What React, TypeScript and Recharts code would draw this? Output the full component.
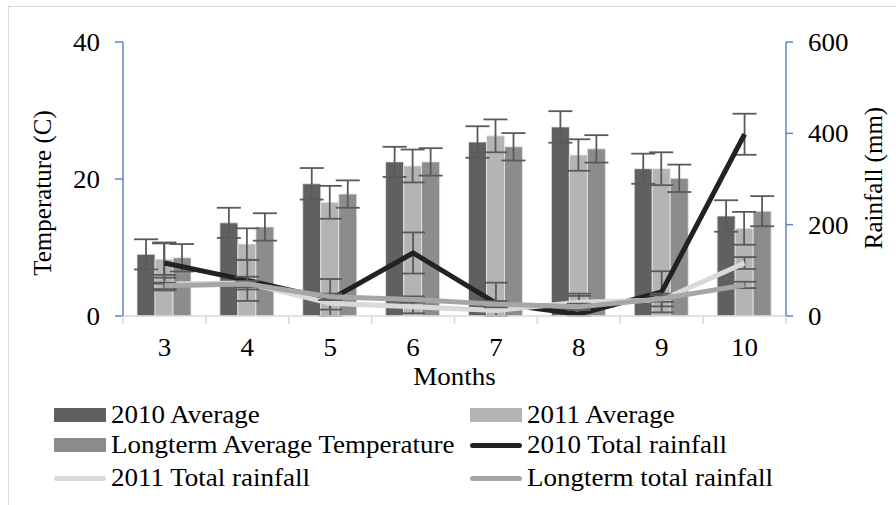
import React from 'react';
import { ComposedChart, Bar, Line, XAxis, YAxis, ErrorBar, Legend } from 'recharts';

const months = ['3', '4', '5', '6', '7', '8', '9', '10'];
const avg2010 = [9.0, 13.6, 19.3, 22.5, 25.4, 27.6, 21.5, 14.6];
const avg2011 = [8.3, 10.5, 16.6, 21.9, 26.3, 23.5, 21.5, 12.8];
const avgLong = [8.5, 13.0, 17.8, 22.5, 24.7, 24.4, 20.1, 15.3];
const errAvg2010 = [2.2, 2.2, 2.3, 2.2, 2.3, 2.3, 2.2, 2.3];
const errAvg2011 = [2.3, 2.3, 2.4, 2.4, 2.4, 2.3, 2.4, 2.4];
const errAvgLong = [2.0, 2.0, 2.0, 2.0, 2.0, 2.0, 2.0, 2.2];
const rain2010 = [116, 78, 36, 138, 28, 4, 53, 398];
const rain2011 = [70, 72, 28, 20, 12, 30, 35, 116];
const rainLong = [66, 70, 42, 36, 26, 20, 38, 68];
const errRain2010 = [45, 45, 45, 45, 45, 45, 45, 45];
const errRain2011 = [14, 14, 14, 14, 14, 14, 14, 13];
const errRainLong = [7, 7, 7, 7, 7, 7, 7, 7];
const tempTicks = [0, 20, 40];
const rainTicks = [0, 200, 400, 600];

// error bars are clipped at the axis floor (0), as in the original plot area
const clipErr = (vals: number[], errs: number[]) => errs.map((e, i) => [Math.min(e, vals[i]), e]);

const eR2010 = clipErr(rain2010, errRain2010);
const eR2011 = clipErr(rain2011, errRain2011);
const eRLong = clipErr(rainLong, errRainLong);

const data = months.map((m, i) => ({
  month: m,
  avg2010: avg2010[i],
  avg2011: avg2011[i],
  avgLong: avgLong[i],
  eA2010: errAvg2010[i],
  eA2011: errAvg2011[i],
  eALong: errAvgLong[i],
  rain2010: rain2010[i],
  rain2011: rain2011[i],
  rainLong: rainLong[i],
  eR2010: eR2010[i],
  eR2011: eR2011[i],
  eRLong: eRLong[i],
}));

const W = 896;
const H = 505;
const LEFT_W = 123;
const RIGHT_W = 110;
const TOP = 42;
const XAXIS_H = 80;
const LEGEND_H = 109;
const PLOT_BOTTOM = H - XAXIS_H - LEGEND_H;
const PLOT_W = W - LEFT_W - RIGHT_W;
const FONT = "'Liberation Serif', 'Times New Roman', 'DejaVu Serif', serif";
const FS = 25;
const SX = 1.08;
const AXIS_BLUE = '#5b87c6';
const ERR = '#5a5a5a';

const C2010 = '#606060';
const C2011 = '#b4b4b4';
const CLONG = '#8c8c8c';
const R2010 = '#222222';
const R2011 = '#d9d9d9';
const RLONG = '#a6a6a6';

const stretch = (x: number) => `translate(${x},0) scale(${SX},1) translate(${-x},0)`;

const XTick = (props: any) => {
  const { x, index, payload } = props;
  const band = PLOT_W / months.length;
  return (
    <g>
      <line x1={x - band / 2} x2={x - band / 2} y1={PLOT_BOTTOM} y2={PLOT_BOTTOM + 8} stroke="#d9d9d9" strokeWidth={1.5} />
      {index === months.length - 1 && (
        <line x1={x + band / 2} x2={x + band / 2} y1={PLOT_BOTTOM} y2={PLOT_BOTTOM + 8} stroke="#d9d9d9" strokeWidth={1.5} />
      )}
      <text x={x} y={PLOT_BOTTOM + 40} textAnchor="middle" transform={stretch(x)} style={{ fontFamily: FONT }} fontSize={FS} fill="#000">
        {payload.value}
      </text>
    </g>
  );
};

const YTick = (props: any) => {
  const { x, y, payload, textAnchor } = props;
  return (
    <text x={x} y={y} dy="0.36em" textAnchor={textAnchor} transform={stretch(x)} style={{ fontFamily: FONT }} fontSize={FS} fill="#000">
      {payload.value}
    </text>
  );
};

const legendItems = [
  { label: '2010 Average', color: C2010, type: 'bar' },
  { label: '2011 Average', color: C2011, type: 'bar' },
  { label: 'Longterm Average Temperature', color: CLONG, type: 'bar' },
  { label: '2010 Total rainfall', color: R2010, type: 'line' },
  { label: '2011 Total rainfall', color: R2011, type: 'line' },
  { label: 'Longterm total rainfall', color: RLONG, type: 'line' },
];

const LegendContent = () => {
  const rowY = [19, 49, 82];
  const colX = [54, 470];
  return (
    <div style={{ position: 'relative', width: W, height: LEGEND_H, fontFamily: FONT, fontSize: FS, color: '#000' }}>
      {legendItems.map((it, i) => {
        const col = i % 2;
        const row = Math.floor(i / 2);
        const cy = rowY[row];
        const x = colX[col];
        return (
          <div key={it.label} style={{ position: 'absolute', left: x, top: cy - 16, height: 32, display: 'flex', alignItems: 'center', whiteSpace: 'nowrap' }}>
            {it.type === 'bar' ? (
              <div style={{ width: 52, height: 14, background: it.color }} />
            ) : (
              <div style={{ width: 52, height: 5, background: it.color, borderRadius: 3 }} />
            )}
            <span style={{ marginLeft: 5, lineHeight: '32px', display: 'inline-block', transform: `scaleX(${SX})`, transformOrigin: 'left center' }}>{it.label}</span>
          </div>
        );
      })}
    </div>
  );
};

const LeftLabel = () => (
  <text x={42} y={193} transform="rotate(-90 42 193)" textAnchor="middle" dominantBaseline="central" style={{ fontFamily: FONT }} fontSize={FS} fill="#000">
    Temperature (C)
  </text>
);
const RightLabel = () => (
  <text x={873} y={178} transform="rotate(-90 873 178)" textAnchor="middle" dominantBaseline="central" style={{ fontFamily: FONT }} fontSize={FS} fill="#000">
    Rainfall (mm)
  </text>
);
const BottomLabel = () => {
  const cx = LEFT_W + PLOT_W / 2;
  return (
    <text x={cx} y={377} textAnchor="middle" dominantBaseline="central" transform={stretch(cx)} style={{ fontFamily: FONT }} fontSize={FS} fill="#000">
      Months
    </text>
  );
};

export default function App() {
  return (
    <div style={{ position: 'absolute', left: 0, top: 0, width: W, height: H, background: '#fff', overflow: 'hidden', fontFamily: FONT }}>
      <div style={{ position: 'absolute', left: 8, top: 6, width: W, height: H, borderLeft: '1.5px solid #d9d9d9', borderTop: '1.5px solid #d9d9d9' }} />
      <div style={{ position: 'absolute', left: 0, top: 0 }}>
        <ComposedChart
          width={W}
          height={H}
          data={data}
          margin={{ top: TOP, right: 0, bottom: 0, left: 0 }}
          barSize={18}
          barGap={0}
          style={{ fontFamily: FONT }}
        >
          <XAxis
            dataKey="month"
            height={XAXIS_H}
            stroke="#d9d9d9"
            strokeWidth={1.5}
            tickLine={false}
            tick={<XTick />}
            interval={0}
            label={<BottomLabel />}
          />
          <YAxis
            yAxisId="temp"
            orientation="left"
            width={LEFT_W}
            domain={[0, 40]}
            allowDataOverflow
            ticks={tempTicks}
            stroke={AXIS_BLUE}
            strokeWidth={1.5}
            tickSize={8}
            tickMargin={15}
            tick={<YTick />}
            label={<LeftLabel />}
          />
          <YAxis
            yAxisId="rain"
            orientation="right"
            width={RIGHT_W}
            domain={[0, 600]}
            allowDataOverflow
            ticks={rainTicks}
            stroke={AXIS_BLUE}
            strokeWidth={1.5}
            tickSize={7}
            tickMargin={15}
            tick={<YTick />}
            label={<RightLabel />}
          />
          <Legend verticalAlign="bottom" height={LEGEND_H} content={<LegendContent />} wrapperStyle={{ left: 0, top: PLOT_BOTTOM + XAXIS_H, width: W, height: LEGEND_H }} />
          <Bar yAxisId="temp" dataKey="avg2010" fill={C2010} stroke="#e8e8e8" strokeWidth={0.8} isAnimationActive={false}>
            <ErrorBar dataKey="eA2010" width={12} stroke={ERR} strokeWidth={1.8} direction="y" />
          </Bar>
          <Bar yAxisId="temp" dataKey="avg2011" fill={C2011} stroke="#e8e8e8" strokeWidth={0.8} isAnimationActive={false}>
            <ErrorBar dataKey="eA2011" width={12} stroke={ERR} strokeWidth={1.8} direction="y" />
          </Bar>
          <Bar yAxisId="temp" dataKey="avgLong" fill={CLONG} stroke="#e8e8e8" strokeWidth={0.8} isAnimationActive={false}>
            <ErrorBar dataKey="eALong" width={12} stroke={ERR} strokeWidth={1.8} direction="y" />
          </Bar>
          <Line yAxisId="rain" dataKey="rain2010" stroke={R2010} strokeWidth={5} dot={false} strokeLinejoin="round" isAnimationActive={false}>
            <ErrorBar dataKey="eR2010" width={12} stroke={ERR} strokeWidth={1.8} direction="y" />
          </Line>
          <Line yAxisId="rain" dataKey="rain2011" stroke={R2011} strokeWidth={5} dot={false} strokeLinejoin="round" isAnimationActive={false}>
            <ErrorBar dataKey="eR2011" width={12} stroke={ERR} strokeWidth={1.8} direction="y" />
          </Line>
          <Line yAxisId="rain" dataKey="rainLong" stroke={RLONG} strokeWidth={5} dot={false} strokeLinejoin="round" isAnimationActive={false}>
            <ErrorBar dataKey="eRLong" width={12} stroke={ERR} strokeWidth={1.8} direction="y" />
          </Line>
        </ComposedChart>
      </div>
    </div>
  );
}
